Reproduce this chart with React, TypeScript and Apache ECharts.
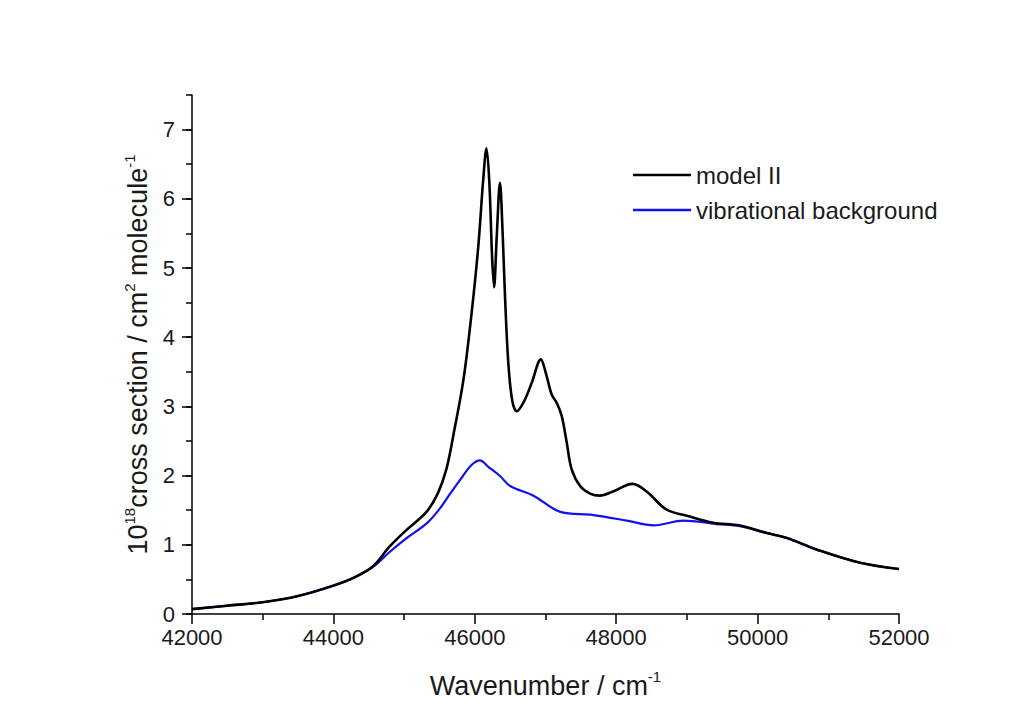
import React, { useEffect, useRef } from "react";
import * as echarts from "echarts";

const modelX = [42000, 42500, 43000, 43500, 44000, 44300, 44560, 44800, 45040, 45320, 45480, 45600, 45700, 45840, 45956, 46050, 46120, 46165, 46205, 46245, 46272, 46310, 46356, 46392, 46427, 46474, 46530, 46593, 46700, 46805, 46935, 47000, 47088, 47160, 47230, 47300, 47370, 47490, 47630, 47770, 47955, 48230, 48430, 48710, 49000, 49370, 49750, 50130, 50410, 50840, 51450, 52000];
const modelY = [0.07, 0.12, 0.17, 0.26, 0.41, 0.53, 0.69, 0.98, 1.22, 1.48, 1.75, 2.1, 2.6, 3.39, 4.36, 5.32, 6.29, 6.73, 6.25, 5.15, 4.72, 5.45, 6.23, 5.55, 4.6, 3.63, 3.08, 2.93, 3.08, 3.34, 3.68, 3.5, 3.17, 3.05, 2.86, 2.48, 2.09, 1.85, 1.74, 1.71, 1.77, 1.88, 1.77, 1.51, 1.42, 1.32, 1.28, 1.17, 1.1, 0.93, 0.74, 0.65];

const bgX = [42000, 42500, 43000, 43500, 44000, 44300, 44560, 44800, 45040, 45320, 45510, 45625, 45800, 45950, 46070, 46200, 46360, 46500, 46830, 47200, 47680, 48150, 48530, 48950, 49420, 49750, 50130, 50410, 50840, 51450, 52000];
const bgY = [0.07, 0.12, 0.17, 0.26, 0.41, 0.53, 0.68, 0.9, 1.1, 1.31, 1.53, 1.7, 1.95, 2.15, 2.22, 2.12, 1.99, 1.85, 1.71, 1.48, 1.43, 1.35, 1.28, 1.35, 1.3, 1.27, 1.17, 1.1, 0.93, 0.74, 0.65];

const seriesNames = ["model II", "vibrational background"];
const majorYTicks = [0, 1, 2, 3, 4, 5, 6, 7];

const FONT = "Liberation Sans, Arial, sans-serif";

export default function App() {
  const ref = useRef<HTMLDivElement>(null);
  useEffect(() => {
    if (!ref.current) return;
    const chart = echarts.init(ref.current, undefined, { renderer: "svg" });
    const pairs = (xs: number[], ys: number[]) => xs.map((x, i) => [x, ys[i]]);
    chart.setOption({
      animation: false,
      backgroundColor: "#ffffff",
      textStyle: { fontFamily: FONT },
      grid: { left: 192, right: 131, top: 95, bottom: 113, containLabel: false },
      legend: {
        orient: "vertical",
        left: 628,
        top: 158,
        data: seriesNames,
        icon: "rect",
        itemWidth: 58,
        itemHeight: 2.5,
        itemGap: 11,
        textStyle: { fontSize: 24, color: "#1a1a1a", fontFamily: FONT, lineHeight: 24, padding: [0, 0, 0, 0] },
      },
      xAxis: {
        type: "value",
        min: 42000,
        max: 52000,
        interval: 2000,
        name: "{a|Wavenumber / cm}{s|-1}",
        nameLocation: "middle",
        nameGap: 55,
        nameTextStyle: {
          rich: {
            a: { fontSize: 27, color: "#1a1a1a", fontFamily: FONT, lineHeight: 30, verticalAlign: "bottom" },
            s: { fontSize: 15, color: "#1a1a1a", fontFamily: FONT, lineHeight: 30, verticalAlign: "top" },
          },
        },
        axisLine: { lineStyle: { color: "#000", width: 1.5 } },
        axisTick: { show: true, inside: false, length: 10, lineStyle: { color: "#000", width: 1.5 } },
        minorTick: { show: true, splitNumber: 2, length: 6, lineStyle: { color: "#000", width: 1.5 } },
        axisLabel: {
          fontSize: 22,
          color: "#1a1a1a",
          margin: 15,
          fontFamily: FONT,
          lineHeight: 17,
          formatter: (v: number) => String(v),
        },
        splitLine: { show: false },
      },
      yAxis: [
        {
          type: "value",
          min: 0,
          max: 7.5,
          interval: 0.5,
          name: "{a|10}{s|18}{a|cross section / cm}{s|2}{a| molecule}{s|-1}",
          nameLocation: "middle",
          nameGap: 38,
          nameRotate: 90,
          nameTextStyle: {
            rich: {
              a: { fontSize: 27, color: "#1a1a1a", fontFamily: FONT, lineHeight: 30, verticalAlign: "bottom" },
              s: { fontSize: 15, color: "#1a1a1a", fontFamily: FONT, lineHeight: 30, verticalAlign: "top" },
            },
          },
          axisLine: { show: true, lineStyle: { color: "#000", width: 1.5 } },
          axisTick: { show: true, inside: false, length: 6, lineStyle: { color: "#000", width: 1.5 } },
          axisLabel: {
            fontSize: 22,
            color: "#1a1a1a",
            margin: 17,
            fontFamily: FONT,
            lineHeight: 16,
            padding: [0, 0, 3, 0],
            formatter: (v: number) => (Math.abs(v - Math.round(v)) < 1e-9 && v <= 7 ? String(Math.round(v)) : ""),
          },
          splitLine: { show: false },
        },
        {
          type: "value",
          min: 0,
          max: 7.5,
          interval: 0.5,
          position: "left",
          axisLine: { show: false },
          axisTick: { show: true, inside: false, length: 10, customValues: majorYTicks, lineStyle: { color: "#000", width: 1.5 } },
          axisLabel: { show: false },
          splitLine: { show: false },
        },
      ],
      series: [
        {
          name: seriesNames[0],
          type: "line",
          data: pairs(modelX, modelY),
          showSymbol: false,
          smooth: 0.35,
          z: 3,
          lineStyle: { color: "#000000", width: 2.6 },
          itemStyle: { color: "#000000" },
        },
        {
          name: seriesNames[1],
          type: "line",
          data: pairs(bgX, bgY),
          showSymbol: false,
          smooth: 0.35,
          z: 2,
          lineStyle: { color: "#1010f0", width: 2.2 },
          itemStyle: { color: "#1010f0" },
        },
      ],
    });
    return () => chart.dispose();
  }, []);
  return (
    <div
      ref={ref}
      style={{ position: "fixed", left: 0, top: 0, width: 1030, height: 727, background: "#fff" }}
    />
  );
}
